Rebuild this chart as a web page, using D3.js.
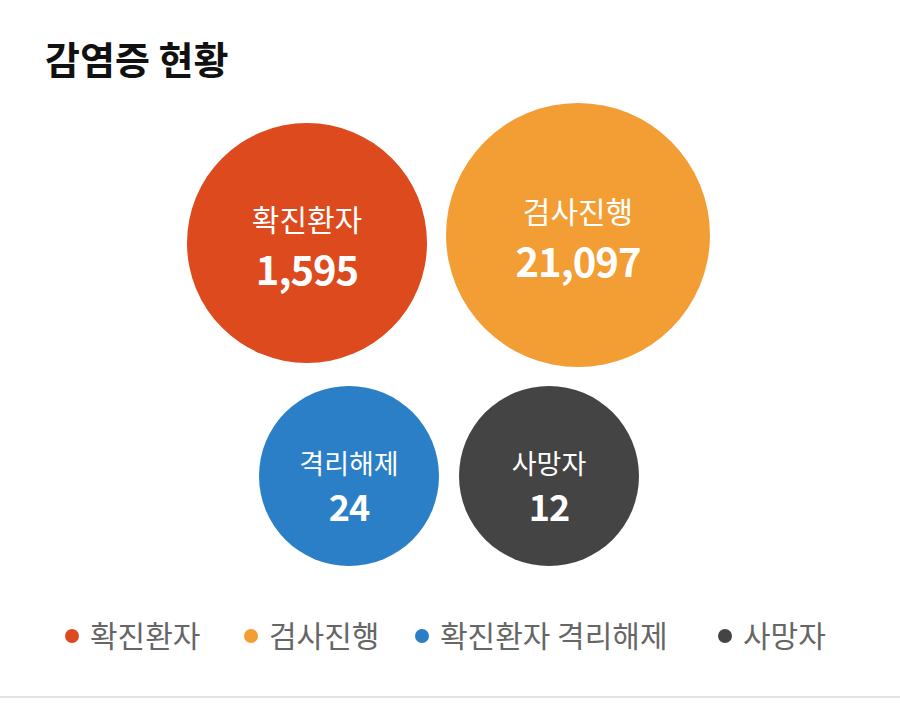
<!DOCTYPE html>
<html><head><meta charset="utf-8">
<script src="https://cdn.jsdelivr.net/npm/d3@7/dist/d3.min.js"></script>
<style>
body{margin:0;background:#fff;font-family:"Noto Sans CJK KR","Noto Sans",sans-serif;}
</style></head>
<body><svg id="chart" width="900" height="704"></svg>
<script>
var names = ["확진환자", "검사진행", "격리해제", "사망자"];
var values = [1595, 21097, 24, 12];
var legendLabels = ["확진환자", "검사진행", "확진환자 격리해제", "사망자"];
var colors = ["#dc4a1d", "#f29e35", "#2b7fc6", "#444444"];

var svg = d3.select("#chart");
var color = d3.scaleOrdinal().domain(names).range(colors);

// top row big, bottom row small
var rowY = d3.scalePoint().domain([0, 1]).range([239, 476]);
var topX = d3.scalePoint().domain([0, 1]).range([307, 578]);
var botX = d3.scalePoint().domain([0, 1]).range([349, 549]);
var radius = d3.scaleOrdinal().domain(names).range([120, 132, 90, 90]);

svg.append("text").attr("x", 45).attr("y", 74)
  .attr("font-size", 38).attr("font-weight", 700).attr("fill", "#111")
  .text("감염증 현황");

var g = svg.selectAll("g.bubble").data(names).enter().append("g")
  .attr("class", "bubble")
  .attr("transform", function(d, i){
    var row = i < 2 ? 0 : 1;
    var x = row == 0 ? topX(i) : botX(i - 2);
    var y = rowY(row) + (i == 0 ? 4 : i == 1 ? -4 : 0);
    return "translate(" + x + "," + y + ")";
  });

g.append("circle").attr("r", function(d){ return radius(d); })
  .attr("fill", function(d){ return color(d); });

g.append("text").attr("text-anchor", "middle")
  .attr("y", function(d, i){ return i < 2 ? -12 : -2; })
  .attr("font-size", function(d, i){ return i < 2 ? 30 : 27; })
  .attr("fill", "#fff").text(function(d){ return d; });

g.append("text").attr("text-anchor", "middle")
  .attr("y", function(d, i){ return i < 2 ? 42 : 45; })
  .attr("font-size", function(d, i){ return i < 2 ? 40 : 36; })
  .attr("font-weight", 700).attr("fill", "#fff").attr("letter-spacing", -1)
  .text(function(d, i){ return d3.format(",")(values[i]); });

// legend
var legX = [72, 251, 422, 725];
var leg = svg.selectAll("g.leg").data(legendLabels).enter().append("g")
  .attr("transform", function(d, i){ return "translate(" + legX[i] + ",636)"; });
leg.append("circle").attr("r", 7).attr("fill", function(d, i){ return colors[i]; });
leg.append("text").attr("x", 18).attr("y", 11).attr("font-size", 30)
  .attr("fill", "#666").text(function(d){ return d; });

svg.append("line").attr("x1", 0).attr("x2", 900).attr("y1", 697).attr("y2", 697)
  .attr("stroke", "#e4e4e4").attr("stroke-width", 2);
</script></body></html>
